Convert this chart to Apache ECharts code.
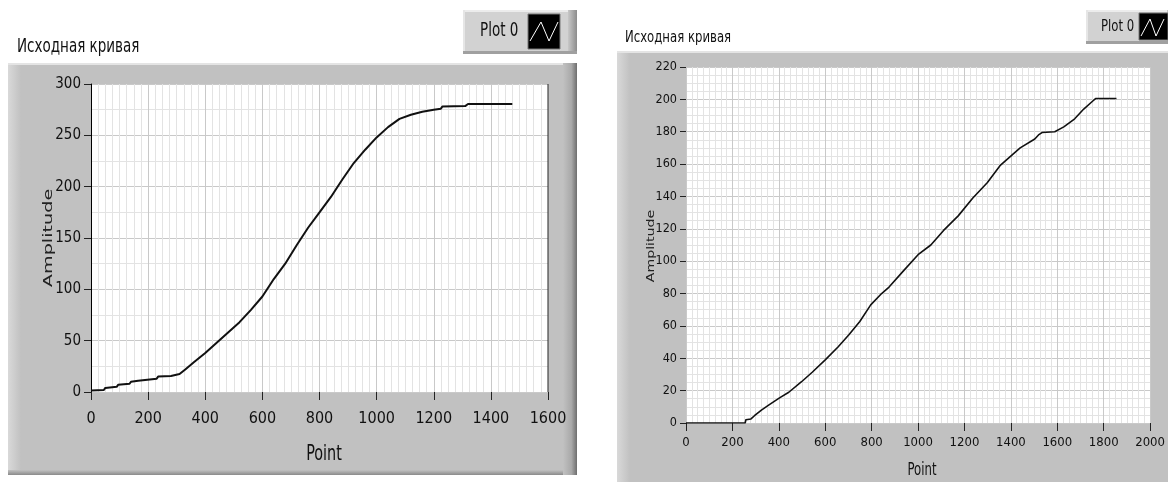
<!DOCTYPE html>
<html><head><meta charset="utf-8">
<script src="https://cdn.jsdelivr.net/npm/echarts@6/dist/echarts.min.js"></script>
<style>html,body{margin:0;padding:0;background:#fff}#c{width:1168px;height:482px}</style>
</head><body><div id="c"></div>
<script>
// ---- data ----
const titleText = 'Исходная кривая';
const legendText = 'Plot 0';
const xName = 'Point';
const yName = 'Amplitude';

const leftPointX = [0,45,50,90,95,135,140,165,170,230,235,280,285,310,330,360,400,440,480,520,560,600,640,680,720,760,800,840,880,920,960,1000,1040,1080,1120,1160,1200,1225,1230,1310,1320,1475];
const leftAmp    = [1.5,2,4,5,7,8,10,11,12.5,13,15,15.5,17,17.5,22,29,38,48,58,68,80,93,110,125,143,160,175,190,207,223,236,248,258,266,270,273,275,276,278,278.5,280.5,280.5];

const rightPointX = [0,255,258,280,295,325,356,403,443,498,545,600,655,702,749,796,843,875,937,1000,1055,1110,1173,1236,1298,1353,1408,1440,1503,1519,1534,1589,1628,1675,1714,1753,1765,1855];
const rightAmp    = [0,0,2,2.5,4.5,8,11,15.5,19,25.5,31.5,39,47,54.5,62.7,73,80,84,94,104,110,119,128,139,148.5,159,166,170,175.5,178,179.5,180,183,188,194,199,200.5,200.5];

const leftXTicks  = [0,200,400,600,800,1000,1200,1400,1600];
const leftYTicks  = [0,50,100,150,200,250,300];
const rightXTicks = [0,200,400,600,800,1000,1200,1400,1600,1800,2000];
const rightYTicks = [0,20,40,60,80,100,120,140,160,180,200,220];

// ---- styling ----
const NARROW = '"Liberation Sans Narrow","DejaVu Sans Condensed","Arial Narrow",sans-serif';
const SANS = '"DejaVu Sans",Verdana,sans-serif';
const PANEL = '#c1c1c1';
const MAJOR = '#c9c9c9';
const MINOR = '#e3e3e3';

const chart = echarts.init(document.getElementById('c'));
const G = echarts.graphic;

function zip(xs, ys){ return xs.map((x,i)=>[x, ys[i]]); }
const plain = v => String(v);

function xAxis(grid, ticks, offset, fontSize, margin){
  return {
    type:'value', gridIndex:grid, min:ticks[0], max:ticks[ticks.length-1], interval:ticks[1]-ticks[0],
    offset:offset,
    axisLine:{show:false},
    axisTick:{show:true, length:8, lineStyle:{color:'#222', width:1}},
    axisLabel:{margin:margin, color:'#111', fontFamily:NARROW, fontSize:fontSize, formatter:plain},
    splitLine:{show:true, lineStyle:{color:MAJOR, width:1}},
    minorTick:{show:false, splitNumber:8},
    minorSplitLine:{show:true, lineStyle:{color:MINOR, width:1}}
  };
}
function yAxis(grid, ticks, opts){
  return {
    type:'value', gridIndex:grid, min:ticks[0], max:ticks[ticks.length-1], interval:ticks[1]-ticks[0],
    offset:opts.offset,
    axisLine:{show:opts.line, lineStyle:{color:'#000', width:1}},
    axisTick:{show:true, length:opts.tick, lineStyle:{color:'#222', width:1}},
    axisLabel:{margin:opts.margin, color:'#111', fontFamily:NARROW, fontSize:opts.fontSize, formatter:plain},
    splitLine:{show:true, lineStyle:{color:MAJOR, width:1}},
    minorTick:{show:false, splitNumber:opts.minor},
    minorSplitLine:{show:true, lineStyle:{color:MINOR, width:1}}
  };
}

function panel(x, y, w, h, right, bottom){
  const els = [
    {type:'rect', z:-10, silent:true, shape:{x:x,y:y,width:w,height:h}, style:{fill:PANEL}},
    {type:'rect', z:-9, silent:true, shape:{x:x,y:y,width:13,height:h},
      style:{fill:new G.LinearGradient(0,0,1,0,[{offset:0,color:'#d9d9d9'},{offset:1,color:PANEL}])}},
    {type:'rect', z:-9, silent:true, shape:{x:x,y:y,width:w,height:2}, style:{fill:'#e4e4e4'}}
  ];
  if (right) els.push({type:'rect', z:-9, silent:true, shape:{x:x+w-14,y:y,width:14,height:h},
      style:{fill:new G.LinearGradient(0,0,1,0,[{offset:0,color:PANEL},{offset:0.6,color:'#a9a9a9'},{offset:1,color:'#6e6e6e'}])}});
  if (bottom) els.push({type:'rect', z:-8, silent:true, shape:{x:x,y:y+h-5,width:w-14,height:5},
      style:{fill:new G.LinearGradient(0,0,0,1,[{offset:0,color:PANEL},{offset:1,color:'#8a8a8a'}])}});
  return els;
}

function legendBox(x, y, w, h, tx, ty, fs, bx, by, bw, bh, zz){
  return [
    {type:'rect', z:5, silent:true, shape:{x:x,y:y,width:w,height:h}, style:{fill:'#d2d2d2'}},
    {type:'rect', z:5, silent:true, shape:{x:x,y:y,width:w,height:2}, style:{fill:'#ececec'}},
    {type:'rect', z:5, silent:true, shape:{x:x,y:y,width:2,height:h}, style:{fill:'#e6e6e6'}},
    {type:'rect', z:6, silent:true, shape:{x:x+w-9,y:y,width:9,height:h},
      style:{fill:new G.LinearGradient(0,0,1,0,[{offset:0,color:'#c8c8c8'},{offset:1,color:'#8c8c8c'}])}},
    {type:'rect', z:6, silent:true, shape:{x:x,y:y+h-3,width:w,height:3}, style:{fill:'#a0a0a0'}},
    {type:'text', z:7, x:tx, y:ty, scaleY:1.25, style:{text:legendText, font:fs+'px '+NARROW, fill:'#111', textAlign:'left', textVerticalAlign:'middle'}},
    {type:'rect', z:7, silent:true, shape:{x:bx,y:by,width:bw,height:bh}, style:{fill:'#000', stroke:'#777', lineWidth:1}},
    {type:'polyline', z:8, silent:true, shape:{points:zz}, style:{stroke:'#fff', lineWidth:1, fill:null}}
  ];
}

const graphics = [].concat(
  panel(8, 63, 569, 412, true, true),
  panel(617, 51, 560, 440, false, false),
  legendBox(463, 10, 114, 44, 480, 31, 15, 528, 14, 32, 35, [[530,41],[541,22],[549,41],[558,22]]),
  legendBox(1086, 10, 90, 34, 1101, 27, 13, 1139, 13, 29, 27, [[1141,36],[1150,19],[1156,36],[1164,19]]),
  [
    {type:'text', z:7, x:17, y:47, scaleY:1.25, style:{text:titleText, font:'15px '+NARROW, fill:'#111', textAlign:'left', textVerticalAlign:'middle'}},
    {type:'text', z:7, x:625, y:38, scaleY:1.25, style:{text:titleText, font:'13px '+NARROW, fill:'#111', textAlign:'left', textVerticalAlign:'middle'}},
    {type:'text', z:7, x:49, y:238, rotation:Math.PI/2, scaleX:1.6, style:{text:yName, font:'12px '+SANS, fill:'#222', textAlign:'center', textVerticalAlign:'middle'}},
    {type:'text', z:7, x:651, y:246, rotation:Math.PI/2, scaleX:1.35, style:{text:yName, font:'10.5px '+SANS, fill:'#222', textAlign:'center', textVerticalAlign:'middle'}},
    {type:'text', z:7, x:324, y:455, scaleY:1.3, style:{text:xName, font:'16px '+NARROW, fill:'#111', textAlign:'center', textVerticalAlign:'middle'}},
    {type:'text', z:7, x:922, y:471, scaleY:1.3, style:{text:xName, font:'13px '+NARROW, fill:'#111', textAlign:'center', textVerticalAlign:'middle'}},
    {type:'rect', z:9, silent:true, shape:{x:547.5,y:84,width:1,height:308}, style:{fill:'#222'}}
  ]
);

chart.setOption({
  backgroundColor:'#fff',
  animation:false,
  grid:[
    {left:91, top:84, width:457, height:308, show:true, backgroundColor:'#fff', borderWidth:0, containLabel:false},
    {left:686, top:67, width:472, height:356, show:true, backgroundColor:'#fff', borderWidth:0, containLabel:false}
  ],
  xAxis:[ xAxis(0, leftXTicks, 5, 16, 14), xAxis(1, rightXTicks, 3, 13, 10) ],
  yAxis:[
    yAxis(0, leftYTicks, {offset:0, line:true, tick:7, margin:10, fontSize:15, minor:2}),
    yAxis(1, rightYTicks, {offset:2, line:false, tick:6, margin:7, fontSize:12.5, minor:4})
  ],
  graphic:{elements:graphics},
  series:[
    {name:legendText, type:'line', xAxisIndex:0, yAxisIndex:0, data:zip(leftPointX, leftAmp), showSymbol:false, lineStyle:{color:'#111', width:2}, itemStyle:{color:'#111'}, z:3},
    {name:legendText, type:'line', xAxisIndex:1, yAxisIndex:1, data:zip(rightPointX, rightAmp), showSymbol:false, lineStyle:{color:'#111', width:1.6}, itemStyle:{color:'#111'}, z:3}
  ]
});
</script></body></html>
